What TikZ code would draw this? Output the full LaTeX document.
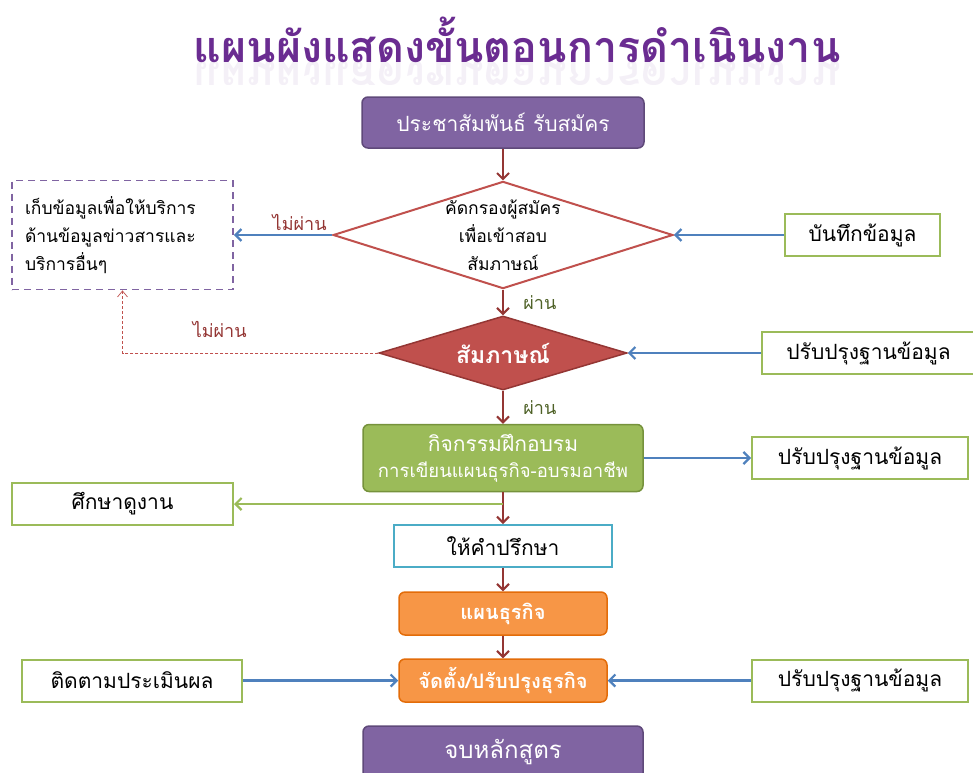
\documentclass[tikz,border=0pt]{standalone}
\usepackage{fontspec}
\setmainfont[Script=Thai]{Loma}
\usetikzlibrary{positioning,shapes.geometric,arrows.meta}
\definecolor{purpfill}{HTML}{8064A2}
\definecolor{purpline}{HTML}{5F497A}
\definecolor{titlepurp}{HTML}{6A2C91}
\definecolor{redline}{HTML}{C0504D}
\definecolor{darkred}{HTML}{943634}
\definecolor{bluearrow}{HTML}{4F81BD}
\definecolor{greenfill}{HTML}{9BBB59}
\definecolor{greenline}{HTML}{76923C}
\definecolor{passgreen}{HTML}{4F6228}
\definecolor{cyanline}{HTML}{4BACC6}
\definecolor{orangefill}{HTML}{F79646}
\definecolor{orangeline}{HTML}{E36C09}

\begin{document}
\begin{tikzpicture}[x=1pt,y=-1pt,on grid,auto,
  font=\fontsize{21}{24}\selectfont,
  purplebox/.style={rectangle,rounded corners=6pt,fill=purpfill,draw=purpline,line width=1.5pt,text=white,minimum width=282pt,minimum height=51pt},
  greenbox/.style={rectangle,rounded corners=6pt,fill=greenfill,draw=greenline,line width=1.5pt,text=white,minimum width=280pt,minimum height=67pt,align=center,inner sep=2pt},
  orangebox/.style={rectangle,rounded corners=6pt,fill=orangefill,draw=orangeline,line width=1.5pt,text=white,font=\fontsize{20}{24}\selectfont\bfseries,minimum width=208pt,minimum height=43pt},
  outbox/.style={rectangle,draw=greenfill,line width=2pt,fill=white,minimum width=216pt,minimum height=42pt},
  consultbox/.style={rectangle,draw=cyanline,line width=2pt,fill=white,minimum width=218pt,minimum height=42pt},
  keepbox/.style={rectangle,draw=purpfill,line width=1.8pt,dash pattern=on 7pt off 5pt,minimum width=221pt,minimum height=109pt,inner sep=0pt,text width=195pt,align=left,font=\fontsize{17.5}{28}\selectfont},
  askdiamond/.style={diamond,draw=redline,line width=2pt,fill=white,aspect=3.17,inner sep=0pt,minimum width=339pt,minimum height=107pt,align=center,font=\fontsize{17.5}{28}\selectfont},
  interview/.style={diamond,draw=darkred,line width=1.5pt,fill=redline,aspect=3.35,inner sep=0pt,minimum width=248pt,minimum height=74pt,text=white,font=\fontsize{23}{26}\selectfont\bfseries},
  flow/.style={->,draw=darkred,line width=2pt,>={Straight Barb[length=6pt,width=12pt]}},
  info/.style={->,draw=bluearrow,line width=2.2pt,>={Straight Barb[length=6pt,width=12pt]}},
  visitline/.style={->,draw=greenfill,line width=2.2pt,>={Straight Barb[length=6pt,width=12pt]}},
  fail/.style={->,draw=redline,line width=0.7pt,densely dashed,>={Straight Barb[length=6pt,width=10pt]}},
  passlabel/.style={text=passgreen,font=\fontsize{18}{20}\selectfont},
  faillabel/.style={text=darkred,font=\fontsize{18}{20}\selectfont}]
\useasboundingbox (0,0) rectangle (973,772);

% title and its reflection
\node[text=titlepurp,font=\fontsize{43}{46}\selectfont\bfseries] (title) at (517,40) {แผนผังแสดงขั้นตอนการดำเนินงาน};
\begin{scope}
  \clip (150,62) rectangle (900,84);
  \node[text=titlepurp,opacity=0.07,yscale=-1,font=\fontsize{43}{46}\selectfont\bfseries] (mirror) at (517,84) {แผนผังแสดงขั้นตอนการดำเนินงาน};
\end{scope}

% main column
\node[purplebox] (start) at (503,122.5) {ประชาสัมพันธ์ รับสมัคร};
\node[askdiamond] (screen) [below=112.5pt of start] {คัดกรองผู้สมัคร\\เพื่อเข้าสอบ\\สัมภาษณ์};
\node[interview] (talk) [below=118pt of screen] {สัมภาษณ์};
\node[greenbox] (train) [below=105pt of talk] {กิจกรรมฝึกอบรม\\[2pt]{\fontsize{18.5}{20}\selectfont การเขียนแผนธุรกิจ-อบรมอาชีพ}};
\node[consultbox] (consult) [below=88pt of train] {ให้คำปรึกษา};
\node[orangebox] (plan) [below=67.5pt of consult] {แผนธุรกิจ};
\node[orangebox] (setup) [below=67pt of plan] {จัดตั้ง/ปรับปรุงธุรกิจ};
\node[purplebox,minimum width=280pt,minimum height=53pt,font=\fontsize{24}{26}\selectfont] (finish) [below=72pt of setup] {จบหลักสูตร};

% side boxes
\node[keepbox] (keep) [left=380.5pt of screen] {เก็บข้อมูลเพื่อให้บริการ\\ด้านข้อมูลข่าวสารและ\\บริการอื่นๆ};
\node[outbox,minimum width=155pt] (record) [right=359.5pt of screen] {บันทึกข้อมูล};
\node[outbox,minimum width=213pt] (upd1) [right=365.5pt of talk] {ปรับปรุงฐานข้อมูล};
\node[outbox] (upd2) [right=357pt of train] {ปรับปรุงฐานข้อมูล};
\node[outbox,minimum width=221pt] (visit) at (122.5,504) {ศึกษาดูงาน};
\node[outbox,minimum width=220pt] (follow) [left=371pt of setup] {ติดตามประเมินผล};
\node[outbox] (upd3) [right=357pt of setup] {ปรับปรุงฐานข้อมูล};
\coordinate (split) at (503,504);

\path[flow]
  (start) edge (screen)
  (screen) edge node[passlabel,xshift=16pt] {ผ่าน} (talk)
  (talk) edge node[passlabel,xshift=16pt] {ผ่าน} (train)
  (train) edge (consult)
  (consult) edge (plan)
  (plan) edge (setup);
\path[info]
  (screen) edge node[faillabel,swap,pos=0.33] {ไม่ผ่าน} (keep)
  (record) edge (screen)
  (upd1) edge (talk)
  (train) edge (upd2)
  (follow) edge (setup)
  (upd3) edge (setup);
\draw[visitline] (split) -- (visit);
\draw[fail] (talk) -| node[faillabel,pos=0.31,above=12pt] {ไม่ผ่าน} (keep);
\end{tikzpicture}
\end{document}
